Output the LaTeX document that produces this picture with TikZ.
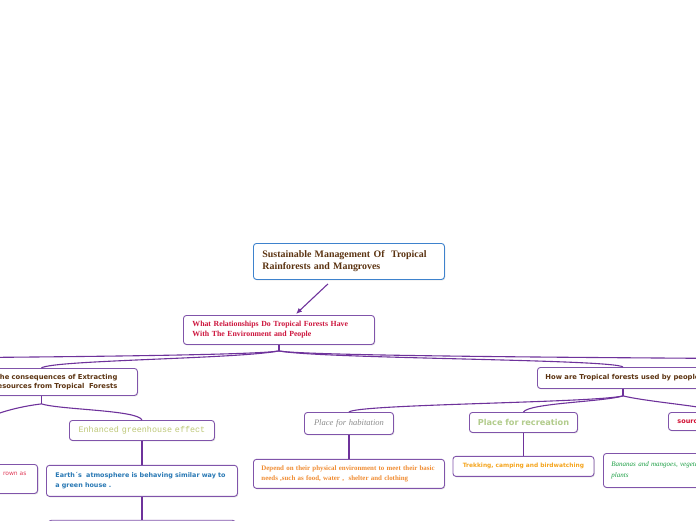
\documentclass[tikz,border=0pt]{standalone}
\usepackage{fontspec}
\setmainfont{Liberation Serif}
\setsansfont{DejaVu Sans}
\setmonofont{Liberation Mono}
\usepackage{tikz}
\usetikzlibrary{arrows.meta, positioning, calc, shadows}
\definecolor{mmpurple}{RGB}{110,50,155}
\definecolor{boxpurple}{RGB}{128,84,170}
\definecolor{rootblue}{RGB}{62,130,205}
\definecolor{brownish}{RGB}{92,52,18}
\definecolor{crimsonred}{RGB}{204,20,60}
\definecolor{olivelite}{RGB}{190,200,120}
\definecolor{earthblue}{RGB}{40,120,180}
\definecolor{deporange}{RGB}{240,140,50}
\definecolor{recgreen}{RGB}{178,204,140}
\definecolor{trekorange}{RGB}{245,165,30}
\definecolor{srcred}{RGB}{210,15,50}
\definecolor{bangreen}{RGB}{30,160,70}
\definecolor{habgray}{RGB}{140,140,140}
\definecolor{growred}{RGB}{225,60,90}

\begin{document}
\begin{tikzpicture}[x=1pt, y=-1pt,
    topic/.style={draw=boxpurple, line width=0.9pt, rounded corners=3pt, fill=white,
                  drop shadow={opacity=0.25, shadow xshift=0.8pt, shadow yshift=-1pt},
                  inner ysep=0pt, align=left},
    root/.style={topic, draw=rootblue, inner xsep=9pt, text width=173pt, minimum height=36pt,
                 font=\fontsize{9.9}{12}\selectfont\bfseries, text=brownish},
    link/.style={draw=mmpurple, line width=1.1pt},
    arrow/.style={-{Latex[length=6pt, width=5pt]}, draw=mmpurple, line width=1.1pt}
]
\useasboundingbox (0,0) rectangle (696,520);
\clip (0,0) rectangle (696,520);

% main topics
\node[root, anchor=north west] (root) at (253,243)
  {Sustainable Management Of\ \ Tropical\\Rainforests and Mangroves};
\node[topic, anchor=north west, inner xsep=9pt, text width=173pt, minimum height=29pt,
      font=\fontsize{7.8}{10}\selectfont\bfseries, text=crimsonred] (rel) at (183,315)
  {What Relationships Do Tropical Forests Have\\With The Environment and People};
\node[topic, anchor=north west, align=right, inner xsep=20pt, text width=152pt, minimum height=27pt,
      font=\fontsize{6.8}{8.5}\sffamily\bfseries, text=brownish] (cons) at (-55,368)
  {The consequences of Extracting\\Resources from Tropical\ \ Forests};
\node[topic, anchor=north west, inner xsep=8pt, minimum height=21pt,
      font=\fontsize{6.8}{8.5}\sffamily\bfseries, text=brownish] (use) at (537,367)
  {How are Tropical forests used by people};

% consequences
\node[topic, anchor=north west, align=center, inner xsep=4pt, text width=137pt, minimum height=20pt,
      font=\fontsize{8.4}{10}\ttfamily, text=olivelite] (enh) at (69,420)
  {Enhanced greenhouse effect};
\node[topic, below=24pt of enh, inner xsep=9pt, text width=173pt, minimum height=31pt,
      font=\fontsize{6.4}{10.5}\sffamily\bfseries, text=earthblue] (earth)
  {Earth´s\ \ atmosphere is behaving similar way to\\a green house .};
\node[topic, below=23pt of earth, minimum width=187pt, minimum height=40pt] (next) {};
\node[topic, anchor=north east, align=right, inner xsep=11pt, text width=169pt, minimum height=29pt,
      font=\fontsize{6}{7.5}\sffamily, text=growred] (grow) at (38,464)
  {rown as\\\strut};

% uses
\node[topic, anchor=north west, align=center, inner xsep=4pt, text width=81pt, minimum height=22pt,
      font=\fontsize{8.5}{10}\itshape, text=habgray] (hab) at (304,412)
  {Place for habitation};
\node[topic, below=24pt of hab, inner xsep=8pt, text width=175pt, minimum height=29pt,
      font=\fontsize{6.9}{10}\bfseries, text=deporange] (dep)
  {Depend on their physical environment to meet their basic\\needs ,such as food, water ,\ \ shelter and clothing};
\node[topic, anchor=north west, align=center, inner xsep=4pt, text width=100pt, minimum height=20pt,
      font=\fontsize{8.2}{9}\sffamily\bfseries, text=recgreen] (rec) at (469,412)
  {Place for recreation};
\node[topic, below=23pt of rec, align=center, inner xsep=4pt, text width=133pt, minimum height=20pt,
      font=\fontsize{5.9}{8}\sffamily\bfseries, text=trekorange] (trek)
  {Trekking, camping and birdwatching};
\node[topic, anchor=north west, inner xsep=9pt, text width=92pt, minimum height=18pt,
      font=\fontsize{6.5}{8}\sffamily\bfseries, text=srcred] (src) at (668,412)
  {source};
\node[topic, anchor=north west, inner xsep=8pt, text width=160pt, minimum height=34pt,
      font=\fontsize{7}{11}\itshape, text=bangreen] (ban) at (603,453)
  {Bananas and mangoes, vegetables and\\plants};

% forks and far ends
\coordinate (relfork) at ($(rel.south)+(0,6)$);
\coordinate (consfork) at ($(cons.south)+(0,8)$);
\coordinate (usetop) at ($(use.north west)+(86,0)$);
\coordinate (usebot) at ($(use.south west)+(86,0)$);
\coordinate (usefork) at ($(usebot)+(0,7)$);
\coordinate (offL) at (-200,359);
\coordinate (offR) at (780,359);

% connectors
\draw[arrow] ($(root.south)+(-21,4)$) -- ($(rel.north)+(17,-1)$);
\draw[link] (rel.south) -- (relfork);
\draw[link] (relfork) .. controls +(-30,6) and +(60,-1) .. (offL);
\draw[link] (relfork) .. controls +(30,6) and +(-60,-1) .. (offR);
\draw[link] (relfork) .. controls +(-40,8) and +(10,-8) .. (cons.north);
\draw[link] (relfork) .. controls +(40,8) and +(-10,-8) .. (usetop);
\draw[link] (cons.south) -- (consfork);
\draw[link] (consfork) .. controls +(20,6) and +(-4,-10) .. (enh.north);
\draw[link] (consfork) .. controls +(-25,3) and +(10,-45) .. (grow.north);
\draw[link] (enh) -- (earth);
\draw[link] (earth) -- (next);
\draw[link] (usebot) -- (usefork);
\draw[link] (usefork) .. controls +(-30,7) and +(10,-8) .. (hab.north);
\draw[link] (usefork) .. controls +(-20,6) and +(6,-9) .. (rec.north);
\draw[link] (usefork) .. controls +(25,6) and +(-20,-6) .. (src.north);
\draw[link] (hab) -- (dep);
\draw[link] (rec) -- (trek);
\end{tikzpicture}
\end{document}
